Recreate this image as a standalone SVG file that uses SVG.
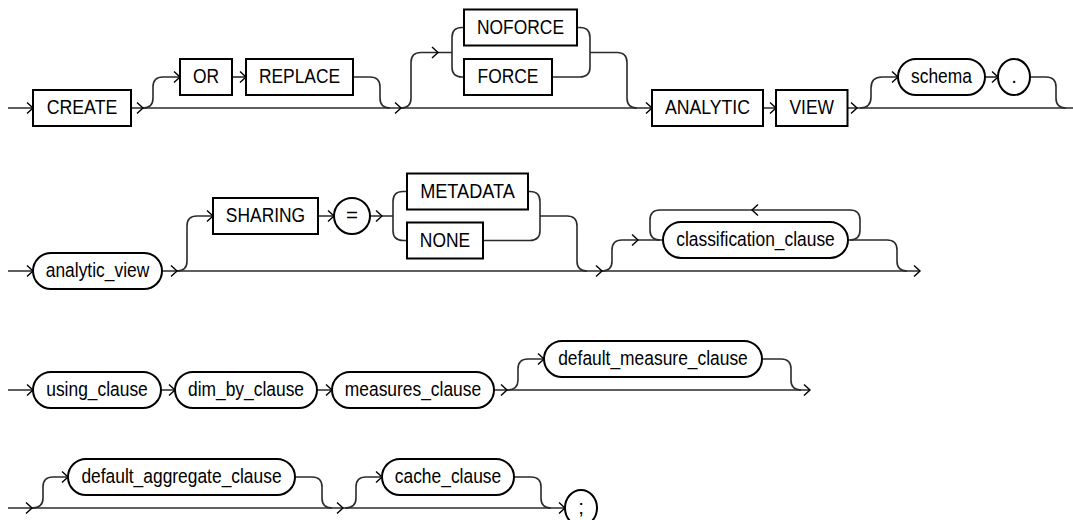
<svg xmlns="http://www.w3.org/2000/svg" xmlns:xlink="http://www.w3.org/1999/xlink" width="1073" height="520" viewBox="0 0 1073 520">
<style>
.bx{fill:#fff;stroke:#000;stroke-width:2}
.ln{fill:none;stroke:#2b2b2b;stroke-width:1.6}
.ah{fill:none;stroke:#000;stroke-width:1.4}
.t{font-family:"Liberation Sans",Arial,sans-serif;font-size:20.5px;text-anchor:middle;fill:#000}
</style>
<defs>
<path id="a" class="ah" d="M-6,-5.5 L0,0 L-6,5.5"/>
<path id="al" class="ah" d="M6,-5.5 L0,0 L6,5.5"/>
</defs>
<g id="connectors">
<!-- row 1 -->
<path class="ln" d="M8,108 H33 M131,108 H652 M763,108 H776 M847,108 H1073"/>
<path class="ln" d="M143,108 Q153,108 153,98 V87 Q153,77 163,77 H180"/>
<path class="ln" d="M232,77 H246"/>
<path class="ln" d="M353,77 H370 Q380,77 380,87 V98 Q380,108 390,108"/>
<path class="ln" d="M401,108 Q411,108 411,98 V62.5 Q411,52.5 421,52.5 H452"/>
<path class="ln" d="M452,52.5 V37.5 Q452,27.5 462,27.5 H464 M452,52.5 V67 Q452,77 462,77 H464"/>
<path class="ln" d="M577,27.5 H580 Q590,27.5 590,37.5 V67 Q590,77 580,77 H552 M590,52.5 H617 Q627,52.5 627,62.5 V98 Q627,108 637,108"/>
<path class="ln" d="M860,108 Q871,108 871,97 V88 Q871,77 882,77 H898"/>
<path class="ln" d="M985,77 H998"/>
<path class="ln" d="M1030,77 H1046 Q1056,77 1056,87 V98 Q1056,108 1066,108"/>
<use href="#a" x="33" y="108"/><use href="#a" x="143" y="108"/><use href="#a" x="180" y="77"/>
<use href="#a" x="246" y="77"/><use href="#a" x="401" y="108"/><use href="#a" x="438" y="52.5"/>
<use href="#a" x="652" y="108"/><use href="#a" x="776" y="108"/><use href="#a" x="857" y="108"/>
<use href="#a" x="898" y="77"/><use href="#a" x="998" y="77"/>
<!-- row 2 -->
<path class="ln" d="M8,271 H33 M162,271 H920"/>
<path class="ln" d="M177,271 Q187,271 187,261 V226 Q187,216 197,216 H213"/>
<path class="ln" d="M318,216 H334 M370,216 H393"/>
<path class="ln" d="M393,216 V201.5 Q393,191.5 403,191.5 H407 M393,216 V230.5 Q393,240.5 403,240.5 H407"/>
<path class="ln" d="M528,191.5 H530 Q540,191.5 540,201.5 V230.5 Q540,240.5 530,240.5 H483 M540,216 H567 Q577,216 577,226 V261 Q577,271 587,271"/>
<path class="ln" d="M602,271 Q612,271 612,261 V250 Q612,240 622,240 H663"/>
<path class="ln" d="M848,240 H887 Q897,240 897,250 V261 Q897,271 907,271"/>
<path class="ln" d="M850,240 Q860,240 860,230 V220 Q860,210 850,210 H660 Q650,210 650,220 V230 Q650,240 660,240"/>
<use href="#a" x="33" y="271"/><use href="#a" x="177" y="271"/><use href="#a" x="213" y="216"/>
<use href="#a" x="334" y="216"/><use href="#a" x="382" y="216"/><use href="#a" x="602" y="271"/>
<use href="#a" x="638" y="240"/><use href="#a" x="920" y="271"/><use href="#al" x="752" y="210"/>
<!-- row 3 -->
<path class="ln" d="M8,390 H33 M161,390 H175 M317,390 H332 M494,390 H810"/>
<path class="ln" d="M507,390 Q518,390 518,380 V369 Q518,359 528,359 H544"/>
<path class="ln" d="M762,359 H781 Q791,359 791,369 V380 Q791,390 801,390"/>
<use href="#a" x="33" y="390"/><use href="#a" x="175" y="390"/><use href="#a" x="332" y="390"/>
<use href="#a" x="507" y="390"/><use href="#a" x="544" y="359"/><use href="#a" x="810" y="390"/>
<!-- row 4 -->
<path class="ln" d="M8,508 H565"/>
<path class="ln" d="M32,508 Q43,508 43,498 V487 Q43,477 53,477 H68"/>
<path class="ln" d="M295,477 H312 Q322,477 322,487 V498 Q322,508 332,508"/>
<path class="ln" d="M345,508 Q356,508 356,498 V487 Q356,477 366,477 H382"/>
<path class="ln" d="M514,477 H531 Q541,477 541,487 V498 Q541,508 551,508"/>
<use href="#a" x="32" y="508"/><use href="#a" x="68" y="477"/><use href="#a" x="343" y="508"/>
<use href="#a" x="382" y="477"/><use href="#a" x="565" y="508"/>
</g>
<!-- row 1 nodes -->
<g id="create"><rect class="bx" x="33" y="90" width="98" height="36"/><text class="t" x="82" y="114" textLength="70.6" lengthAdjust="spacingAndGlyphs">CREATE</text></g>
<g id="or"><rect class="bx" x="180" y="59" width="52" height="36"/><text class="t" x="206" y="83" textLength="26.1" lengthAdjust="spacingAndGlyphs">OR</text></g>
<g id="replace"><rect class="bx" x="246" y="59" width="107" height="36"/><text class="t" x="299.5" y="83" textLength="81.2" lengthAdjust="spacingAndGlyphs">REPLACE</text></g>
<g id="noforce"><rect class="bx" x="464" y="9.5" width="113" height="36"/><text class="t" x="520.5" y="33.5" textLength="87" lengthAdjust="spacingAndGlyphs">NOFORCE</text></g>
<g id="force"><rect class="bx" x="464" y="59" width="88" height="36"/><text class="t" x="508" y="83" textLength="60.9" lengthAdjust="spacingAndGlyphs">FORCE</text></g>
<g id="analytic"><rect class="bx" x="652" y="90" width="111" height="36"/><text class="t" x="707.5" y="114" textLength="85.1" lengthAdjust="spacingAndGlyphs">ANALYTIC</text></g>
<g id="view"><rect class="bx" x="776" y="90" width="71.5" height="36"/><text class="t" x="811.75" y="114" textLength="44.5" lengthAdjust="spacingAndGlyphs">VIEW</text></g>
<g id="schema"><rect class="bx" x="898" y="59" width="87" height="36" rx="18" ry="18"/><text class="t" x="941.5" y="83" textLength="60.9" lengthAdjust="spacingAndGlyphs">schema</text></g>
<g id="dot"><rect class="bx" x="998" y="59" width="32" height="36" rx="16" ry="18"/><text class="t" x="1014" y="83">.</text></g>
<!-- row 2 nodes -->
<g id="analytic_view"><rect class="bx" x="33" y="253" width="129" height="36" rx="18" ry="18"/><text class="t" x="97.5" y="277" textLength="103.5" lengthAdjust="spacingAndGlyphs">analytic_view</text></g>
<g id="sharing"><rect class="bx" x="213" y="198" width="105" height="36"/><text class="t" x="265.5" y="222" textLength="79.3" lengthAdjust="spacingAndGlyphs">SHARING</text></g>
<g id="equals"><circle class="bx" cx="352" cy="216" r="18"/><text class="t" x="352" y="222">=</text></g>
<g id="metadata"><rect class="bx" x="407" y="173.5" width="121" height="36"/><text class="t" x="467.5" y="197.5" textLength="94.7" lengthAdjust="spacingAndGlyphs">METADATA</text></g>
<g id="none"><rect class="bx" x="407" y="222.5" width="76" height="36"/><text class="t" x="445" y="246.5" textLength="50.3" lengthAdjust="spacingAndGlyphs">NONE</text></g>
<g id="classification_clause"><rect class="bx" x="663" y="222" width="185" height="36" rx="18" ry="18"/><text class="t" x="755.5" y="246" textLength="158.6" lengthAdjust="spacingAndGlyphs">classification_clause</text></g>
<!-- row 3 nodes -->
<g id="using_clause"><rect class="bx" x="33" y="372" width="128" height="36" rx="18" ry="18"/><text class="t" x="97" y="396" textLength="101.5" lengthAdjust="spacingAndGlyphs">using_clause</text></g>
<g id="dim_by_clause"><rect class="bx" x="175" y="372" width="142" height="36" rx="18" ry="18"/><text class="t" x="246" y="396" textLength="116" lengthAdjust="spacingAndGlyphs">dim_by_clause</text></g>
<g id="measures_clause"><rect class="bx" x="332" y="372" width="162" height="36" rx="18" ry="18"/><text class="t" x="413" y="396" textLength="136.3" lengthAdjust="spacingAndGlyphs">measures_clause</text></g>
<g id="default_measure_clause"><rect class="bx" x="544" y="341" width="218" height="36" rx="18" ry="18"/><text class="t" x="653" y="365" textLength="189.6" lengthAdjust="spacingAndGlyphs">default_measure_clause</text></g>
<!-- row 4 nodes -->
<g id="default_aggregate_clause"><rect class="bx" x="68" y="459" width="227" height="36" rx="18" ry="18"/><text class="t" x="181.5" y="483" textLength="200.2" lengthAdjust="spacingAndGlyphs">default_aggregate_clause</text></g>
<g id="cache_clause"><rect class="bx" x="382" y="459" width="132" height="36" rx="18" ry="18"/><text class="t" x="448" y="483" textLength="106.4" lengthAdjust="spacingAndGlyphs">cache_clause</text></g>
<g id="semicolon"><rect class="bx" x="565" y="490" width="32" height="36" rx="16" ry="18"/><text class="t" x="581" y="514">;</text></g>
</svg>
